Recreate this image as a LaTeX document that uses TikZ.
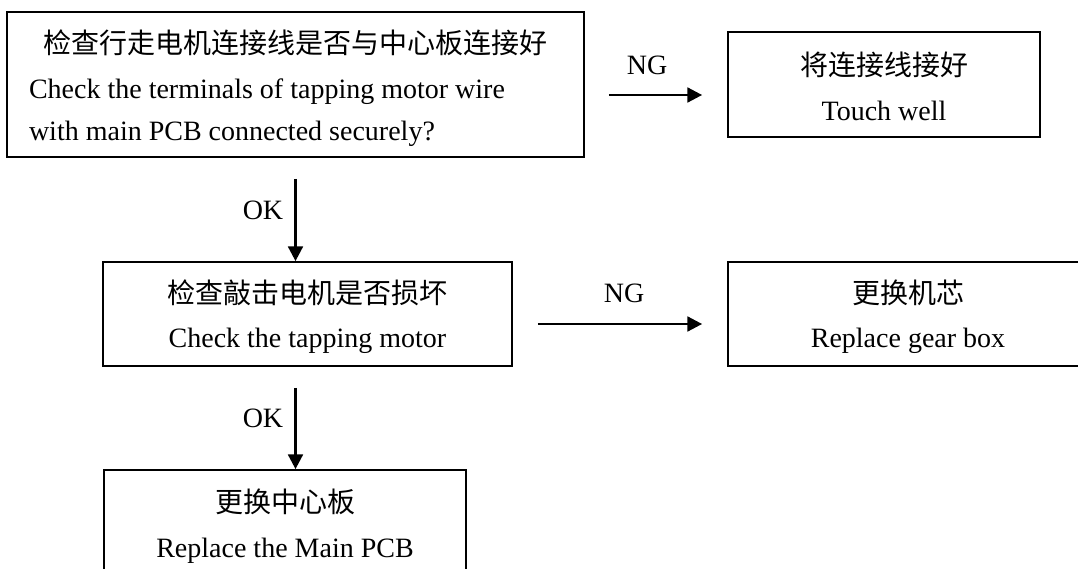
\documentclass[tikz,border=0pt]{standalone}
\usepackage{fontspec}
\setmainfont{Liberation Serif}
\newfontfamily\cjk{Noto Sans CJK SC}
\usetikzlibrary{arrows.meta}
\begin{document}
\begin{tikzpicture}[x=0.75pt,y=-0.75pt,
  box/.style={draw,line width=1.3pt,inner sep=0pt,align=center,
    font=\fontsize{21}{31.5}\selectfont},
  lbl/.style={inner sep=0pt,font=\fontsize{21}{25}\selectfont},
  flow/.style={line width=2pt,-{Triangle[length=11pt,width=11pt]}}]
\useasboundingbox (0,0) rectangle (1078,568);
\fill[white] (0,0) rectangle (1078,568);
\node[box,align=left,inner xsep=16.5pt,minimum width=432.75pt,minimum height=108.75pt] (b1) at (295.5,84.5)
  {\makebox[399.75pt][c]{\rule{0pt}{23pt}\cjk 检查行走电机连接线是否与中心板连接好}\\[2pt]
   Check the terminals of tapping motor wire\\
   with main PCB connected securely?};
\node[box,minimum width=234pt,minimum height=78.75pt] (b2) at (884,84.5)
  {{\rule{0pt}{20pt}\cjk 将连接线接好}\\[2pt] Touch well};
\node[box,minimum width=306.75pt,minimum height=78pt] (b3) at (307.5,314)
  {{\rule{0pt}{22pt}\cjk 检查敲击电机是否损坏}\\[2pt] Check the tapping motor};
\node[box,minimum width=270pt,minimum height=78pt] (b4) at (908,314)
  {{\rule{0pt}{22pt}\cjk 更换机芯}\\[2pt] Replace gear box};
\node[box,minimum width=271.5pt,minimum height=84pt] (b5) at (285,526)
  {{\cjk 更换中心板}\\[2pt] Replace the Main PCB};
\coordinate (s1) at (b1.south);
\coordinate (t1) at (b1.south |- b3.north);
\coordinate (s2) at (b1.south |- b3.south);
\coordinate (t2) at (b1.south |- b5.north);
\draw[flow] ([shift={(24,10.5)}]b1.east) -- ([shift={(-25,10.5)}]b2.west);
\draw[flow] ([shift={(25,10)}]b3.east) -- ([shift={(-25,10)}]b4.west);
\draw[flow] ([shift={(0,21)}]s1) -- (t1);
\draw[flow] ([shift={(0,21)}]s2) -- (t2);
\node[lbl] (ng1) at (647,65) {NG};
\node[lbl] (ng2) at (624,293) {NG};
\node[lbl] (ok1) at (263,210) {OK};
\node[lbl] (ok2) at (263,418) {OK};
\end{tikzpicture}
\end{document}
